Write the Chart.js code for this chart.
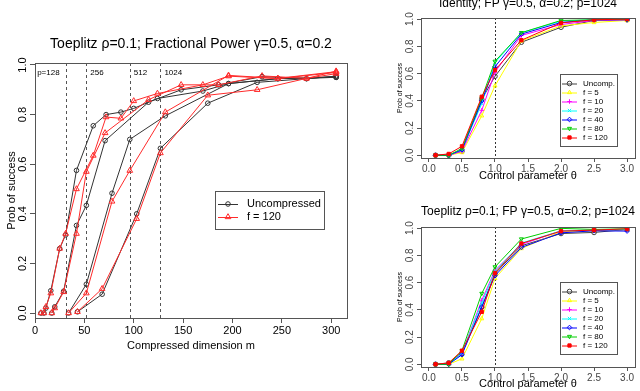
<!DOCTYPE html>
<html>
<head>
<meta charset="utf-8">
<script src="https://cdn.jsdelivr.net/npm/chart.js@4.4.0/dist/chart.umd.min.js"></script>
<style>
  body { margin: 0; background: #fff; width: 640px; height: 391px; overflow: hidden; position: relative; }
  canvas { position: absolute; }
</style>
</head>
<body>
<canvas id="left" width="360" height="391" style="left:0;top:0"></canvas>
<canvas id="rtop" width="260" height="195" style="left:380px;top:0"></canvas>
<canvas id="rbot" width="260" height="196" style="left:380px;top:195px"></canvas>
<script>
// left panel: success vs compressed dimension, one pair of curves per p
const pLabels = ['p=128', '256', '512', '1024'];
const pDashX = [31, 52, 96, 127];

const dimP128 = [6, 9, 11, 16, 25, 31, 42, 59, 72, 87, 100, 124, 170, 196, 246, 305];
const uncP128 = [0, 0, 0.02, 0.09, 0.26, 0.315, 0.575, 0.755, 0.80, 0.81, 0.825, 0.865, 0.895, 0.925, 0.945, 0.95];
const f120P128 = [0, 0, 0.025, 0.08, 0.26, 0.32, 0.50, 0.635, 0.79, 0.785, 0.855, 0.885, 0.92, 0.955, 0.945, 0.97];

const dimP256 = [17, 20, 29, 42, 52, 71, 115, 148, 186, 230, 275, 305];
const uncP256 = [0, 0.025, 0.088, 0.353, 0.434, 0.695, 0.85, 0.90, 0.92, 0.953, 0.945, 0.955];
const f120P256 = [0, 0.02, 0.085, 0.32, 0.57, 0.726, 0.86, 0.92, 0.92, 0.956, 0.946, 0.975];

const dimP512 = [34, 52, 78, 96, 132, 196, 246, 305];
const uncP512 = [0, 0.116, 0.483, 0.70, 0.795, 0.925, 0.945, 0.95];
const f120P512 = [0, 0.08, 0.45, 0.574, 0.81, 0.958, 0.946, 0.973];

const dimP1024 = [43, 68, 103, 127, 175, 225, 275, 305];
const uncP1024 = [0.005, 0.076, 0.40, 0.664, 0.846, 0.93, 0.945, 0.955];
const f120P1024 = [0.005, 0.098, 0.38, 0.645, 0.878, 0.90, 0.946, 0.965];

const leftXTicks = [0, 50, 100, 150, 200, 250, 300];
const probTicks = [0, 0.2, 0.4, 0.6, 0.8, 1.0];

// right panels: success vs control parameter theta
const theta = [0.1, 0.3, 0.5, 0.8, 1.0, 1.4, 2.0, 2.5, 3.0];
const thetaTicks = [0, 0.5, 1, 1.5, 2, 2.5, 3];
const thetaMark = 1.0;
const seriesNames = ['Uncomp.', 'f = 5', 'f = 10', 'f = 20', 'f = 40', 'f = 80', 'f = 120'];

const idUncomp = [0, 0, 0.03, 0.41, 0.58, 0.83, 0.94, 0.99, 0.995];
const idF5 = [0, 0, 0.02, 0.29, 0.51, 0.84, 0.95, 0.975, 0.99];
const idF10 = [0, 0, 0.03, 0.33, 0.61, 0.88, 0.96, 0.99, 0.995];
const idF20 = [0, 0, 0.04, 0.38, 0.68, 0.90, 0.985, 0.995, 1.0];
const idF40 = [0, 0, 0.04, 0.40, 0.65, 0.89, 0.975, 0.995, 0.995];
const idF80 = [0, 0, 0.05, 0.42, 0.69, 0.90, 0.99, 0.995, 1.0];
const idF120 = [0, 0.01, 0.066, 0.43, 0.625, 0.845, 0.972, 0.995, 1.0];

const tpUncomp = [0, 0.01, 0.08, 0.42, 0.665, 0.87, 0.96, 0.968, 0.99];
const tpF5 = [0, 0, 0.04, 0.335, 0.63, 0.85, 0.975, 0.98, 0.99];
const tpF10 = [0, 0, 0.08, 0.47, 0.69, 0.88, 0.98, 0.985, 0.99];
const tpF20 = [0, 0, 0.08, 0.45, 0.68, 0.89, 0.98, 0.985, 0.99];
const tpF40 = [0, 0, 0.07, 0.42, 0.65, 0.858, 0.965, 0.98, 0.978];
const tpF80 = [0, 0, 0.10, 0.52, 0.715, 0.92, 0.998, 0.99, 0.995];
const tpF120 = [0, 0.01, 0.10, 0.385, 0.67, 0.887, 0.978, 0.985, 0.995];

const FONT = '"Liberation Sans", Arial, sans-serif';
const BLACK = '#333333';
const RED = '#ff2a2a';

// one style per series in the right panels (R pch 1..7)
const rightStyles = [
  { color: '#404040', pointStyle: 'circle', rot: 0, fill: false },
  { color: '#ffff00', pointStyle: 'triangle', rot: 0, fill: false },
  { color: '#ff00ff', pointStyle: 'cross', rot: 0, fill: false },
  { color: '#00ffff', pointStyle: 'crossRot', rot: 0, fill: false },
  { color: '#0000ff', pointStyle: 'rectRot', rot: 0, fill: false },
  { color: '#00cd00', pointStyle: 'triangle', rot: 180, fill: false },
  { color: '#ff0000', pointStyle: 'rect', rot: 0, fill: true }
];

const pts = (xs, ys) => xs.map((x, i) => ({ x: x, y: ys[i] }));

function drawMarker(ctx, style, radius, x, y, color, fill) {
  ctx.save();
  ctx.strokeStyle = color;
  ctx.fillStyle = fill ? color : 'rgba(0,0,0,0)';
  ctx.lineWidth = 1;
  Chart.helpers.drawPoint(ctx, { pointStyle: style, radius: radius, rotation: 0, borderWidth: 1 }, x, y);
  ctx.restore();
}

function rYTicks(chart, vals, font, off, color) {
  const ctx = chart.ctx, ys = chart.scales.y, a = chart.chartArea;
  ctx.save();
  ctx.font = font;
  ctx.fillStyle = color;
  ctx.textAlign = 'center';
  ctx.textBaseline = 'middle';
  vals.forEach(v => {
    ctx.save();
    ctx.translate(a.left - off, ys.getPixelForValue(v));
    ctx.rotate(-Math.PI / 2);
    ctx.fillText(v.toFixed(1), 0, 0);
    ctx.restore();
  });
  ctx.restore();
}

function frameBox(chart) {
  const ctx = chart.ctx, a = chart.chartArea;
  ctx.save();
  ctx.strokeStyle = '#555';
  ctx.lineWidth = 1;
  ctx.strokeRect(Math.round(a.left) + 0.5, Math.round(a.top) + 0.5,
    Math.round(a.right - a.left), Math.round(a.bottom - a.top));
  ctx.restore();
}

function vDash(chart, xv, dash, color) {
  const ctx = chart.ctx, a = chart.chartArea;
  const px = Math.round(chart.scales.x.getPixelForValue(xv)) + 0.5;
  ctx.save();
  ctx.strokeStyle = color;
  ctx.lineWidth = 1;
  ctx.setLineDash(dash);
  ctx.beginPath();
  ctx.moveTo(px, a.top);
  ctx.lineTo(px, a.bottom);
  ctx.stroke();
  ctx.restore();
}

function axisX(ticks, title, titleSize, titlePad, tickSize, tickLen, height, min, max, color) {
  return {
    type: 'linear', min: min, max: max,
    afterBuildTicks: s => { s.ticks = ticks.map(v => ({ value: v })); },
    afterFit: s => { s.height = height; },
    border: { display: false },
    grid: { drawOnChartArea: false, drawTicks: true, tickLength: tickLen, color: '#555' },
    ticks: { color: color, padding: 1, maxRotation: 0, font: { family: FONT, size: tickSize },
      callback: v => (Number.isInteger(v) && max > 10) ? String(v) : v.toFixed(1) },
    title: { display: true, text: title, color: '#000', font: { family: FONT, size: titleSize },
      padding: { top: 0, bottom: titlePad } }
  };
}

function axisY(title, titleSize, titlePad, tickLen, width) {
  return {
    type: 'linear', min: -0.02, max: 1.008,
    afterBuildTicks: s => { s.ticks = probTicks.map(v => ({ value: v })); },
    afterFit: s => { s.width = width; },
    border: { display: false },
    grid: { drawOnChartArea: false, drawTicks: true, tickLength: tickLen, color: '#555' },
    ticks: { display: false },
    title: { display: true, text: title, color: '#000', font: { family: FONT, size: titleSize },
      padding: { top: titlePad, bottom: 0 } }
  };
}

// ---------- left chart ----------
const leftSets = [
  [dimP128, uncP128, f120P128],
  [dimP256, uncP256, f120P256],
  [dimP512, uncP512, f120P512],
  [dimP1024, uncP1024, f120P1024]
];
const leftData = [];
leftSets.forEach(s => {
  leftData.push({ label: 'f = 120', data: pts(s[0], s[2]), borderColor: RED, borderWidth: 1,
    pointStyle: 'triangle', pointRadius: 3.3, pointBorderWidth: 1, pointBorderColor: RED,
    pointBackgroundColor: 'rgba(0,0,0,0)', tension: 0 });
});
leftSets.forEach(s => {
  leftData.push({ label: 'Uncompressed', data: pts(s[0], s[1]), borderColor: BLACK, borderWidth: 1,
    pointStyle: 'circle', pointRadius: 2.3, pointBorderWidth: 1, pointBorderColor: BLACK,
    pointBackgroundColor: 'rgba(0,0,0,0)', tension: 0 });
});

new Chart(document.getElementById('left'), {
  type: 'line',
  data: { datasets: leftData },
  options: {
    responsive: false, animation: false,
    layout: { padding: { left: 0, right: 13, top: 63, bottom: 0 } },
    plugins: { legend: { display: false }, tooltip: { enabled: false } },
    scales: {
      x: axisX(leftXTicks, 'Compressed dimension m', 11, 38, 11, 5, 73, 0, 316, '#000'),
      y: axisY('Prob of success', 11, 5.5, 5, 35)
    }
  },
  plugins: [{
    id: 'leftDeco',
    beforeDatasetsDraw(chart) {
      pDashX.forEach(x => vDash(chart, x, [3, 3], '#555'));
    },
    afterDraw(chart) {
      const ctx = chart.ctx, a = chart.chartArea, xs = chart.scales.x;
      frameBox(chart);
      rYTicks(chart, probTicks, '11px ' + FONT, 12.5, '#000');
      ctx.save();
      ctx.fillStyle = '#000';
      ctx.font = '14px ' + FONT;
      ctx.textAlign = 'center';
      ctx.textBaseline = 'middle';
      ctx.fillText('Toeplitz \u03c1=0.1; Fractional Power \u03b3=0.5, \u03b1=0.2', (a.left + a.right) / 2, 44);
      ctx.font = '8px ' + FONT;
      ctx.textBaseline = 'middle';
      pLabels.forEach((t, i) => {
        const px = xs.getPixelForValue(pDashX[i]);
        if (i === 0) { ctx.textAlign = 'right'; ctx.fillText(t, px - 6, 73); }
        else { ctx.textAlign = 'left'; ctx.fillText(t, px + 4, 73); }
      });
      // legend
      const lx = 215, ly = 191, lw = 109, lh = 38;
      ctx.fillStyle = '#fff';
      ctx.fillRect(lx, ly, lw, lh);
      ctx.strokeStyle = '#555';
      ctx.lineWidth = 1;
      ctx.strokeRect(lx + 0.5, ly + 0.5, lw, lh);
      const rows = [['Uncompressed', BLACK, 'circle', 2.3], ['f = 120', RED, 'triangle', 3.3]];
      rows.forEach((r, i) => {
        const yy = ly + 13 + i * 13;
        ctx.strokeStyle = r[1];
        ctx.beginPath();
        ctx.moveTo(lx + 3, yy + 0.5);
        ctx.lineTo(lx + 23, yy + 0.5);
        ctx.stroke();
        drawMarker(ctx, r[2], r[3], lx + 13, yy, r[1], false);
        ctx.fillStyle = '#000';
        ctx.font = '11px ' + FONT;
        ctx.textAlign = 'left';
        ctx.fillText(r[0], lx + 32, yy);
      });
      ctx.restore();
    }
  }]
});

// ---------- right charts ----------
function rightChart(id, title, titleY, series, padTop, xHeight, xTitlePad, legendTop) {
  const datasets = series.map((ys, i) => {
    const st = rightStyles[i];
    return {
      label: seriesNames[i], data: pts(theta, ys), borderColor: st.color, borderWidth: 1,
      pointStyle: st.pointStyle, pointRotation: st.rot, pointRadius: 2.3, pointBorderWidth: 1,
      pointBorderColor: st.color, pointBackgroundColor: st.fill ? st.color : 'rgba(0,0,0,0)',
      tension: 0
    };
  }).reverse();
  new Chart(document.getElementById(id), {
    type: 'line',
    data: { datasets: datasets },
    options: {
      responsive: false, animation: false,
      layout: { padding: { left: 0, right: 1, top: padTop, bottom: 0 } },
      plugins: { legend: { display: false }, tooltip: { enabled: false } },
      scales: {
        x: axisX(thetaTicks, 'Control parameter \u03b8', 11, xTitlePad, 10, 4, xHeight, -0.12, 3.12, '#444'),
        y: axisY('Prob of success', 7, 16, 4, 41)
      }
    },
    plugins: [{
      id: id + 'Deco',
      beforeDatasetsDraw(chart) { vDash(chart, thetaMark, [2, 2], '#333'); },
      afterDraw(chart) {
        const ctx = chart.ctx, a = chart.chartArea;
        frameBox(chart);
        rYTicks(chart, probTicks, '10px ' + FONT, 11, '#444');
        ctx.save();
        ctx.fillStyle = '#000';
        ctx.font = '12px ' + FONT;
        ctx.textAlign = 'center';
        ctx.textBaseline = 'middle';
        ctx.fillText(title, (a.left + a.right) / 2, titleY);
        const lx = 180, ly = legendTop, lw = 57, lh = 72;
        ctx.fillStyle = '#fff';
        ctx.fillRect(lx, ly, lw, lh);
        ctx.strokeStyle = '#555';
        ctx.lineWidth = 1;
        ctx.strokeRect(lx + 0.5, ly + 0.5, lw, lh);
        seriesNames.forEach((name, i) => {
          const st = rightStyles[i];
          const yy = ly + 9.5 + i * 9;
          ctx.strokeStyle = st.color;
          ctx.beginPath();
          ctx.moveTo(lx + 2, yy + 0.5);
          ctx.lineTo(lx + 17, yy + 0.5);
          ctx.stroke();
          ctx.save();
          ctx.translate(lx + 9.5, yy);
          if (st.rot) ctx.rotate(Math.PI);
          drawMarker(ctx, st.pointStyle, 2.3, 0, 0, st.color, st.fill);
          ctx.restore();
          ctx.fillStyle = '#000';
          ctx.font = '8px ' + FONT;
          ctx.textAlign = 'left';
          ctx.fillText(name, lx + 23, yy);
        });
        ctx.restore();
      }
    }]
  });
}

rightChart('rtop', 'Identity; FP \u03b3=0.5, \u03b1=0.2; p=1024', 4,
  [idUncomp, idF5, idF10, idF20, idF40, idF80, idF120], 18, 37, 12, 74);
rightChart('rbot', 'Toeplitz \u03c1=0.1; FP \u03b3=0.5, \u03b1=0.2; p=1024', 16.5,
  [tpUncomp, tpF5, tpF10, tpF20, tpF40, tpF80, tpF120], 32, 24, 0, 87);
</script>
</body>
</html>
